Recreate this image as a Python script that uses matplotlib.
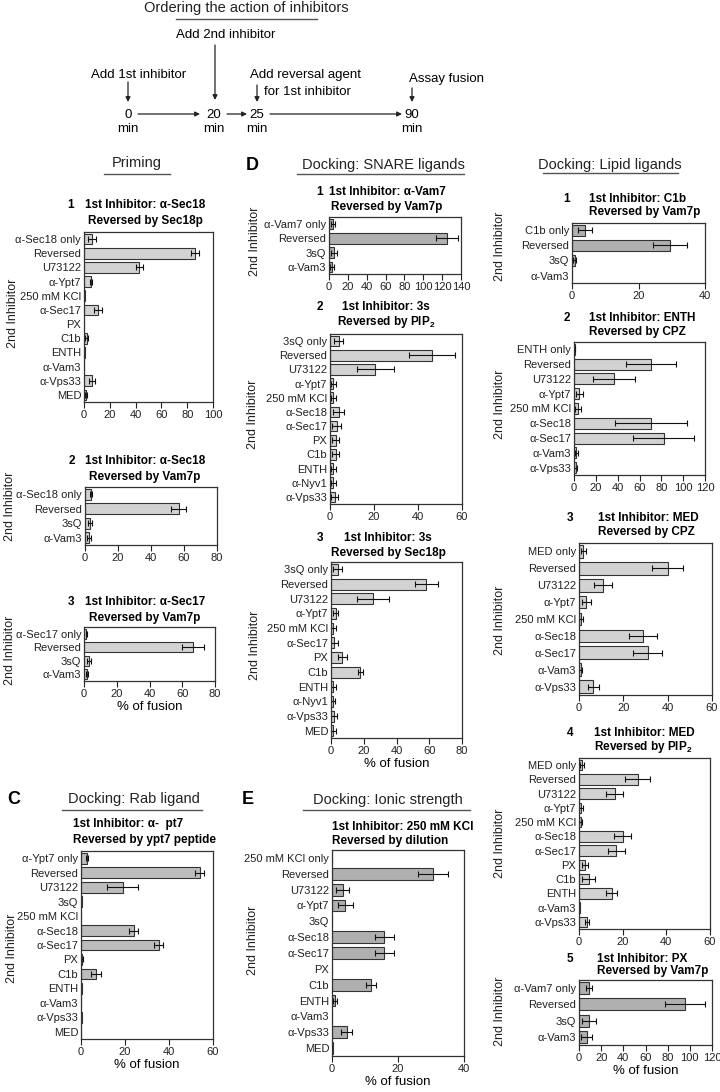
import matplotlib
matplotlib.use("Agg")
import matplotlib.pyplot as plt
import numpy as np

plt.rcParams['font.family'] = ['Liberation Sans', 'DejaVu Sans']
plt.rcParams['mathtext.fontset'] = 'custom'
plt.rcParams['mathtext.rm'] = 'Liberation Sans'
plt.rcParams['mathtext.bf'] = 'Liberation Sans:bold'

# ---------------- data ----------------
# Priming 1: 1st inhibitor a-Sec18, reversed by Sec18p
cats_p1 = ["α-Sec18 only", "Reversed", "U73122", "α-Ypt7", "250 mM KCl", "α-Sec17",
           "PX", "C1b", "ENTH", "α-Vam3", "α-Vps33", "MED"]
vals_p1 = [6, 86, 43, 5.5, 0.6, 11, 0, 2, 0.5, 0, 6.4, 1.5]
errs_p1 = [3, 3, 3, 1, 0, 3, 0, 1, 0, 0, 2.5, 1]

# Priming 2: a-Sec18 reversed by Vam7p
cats_p2 = ["α-Sec18 only", "Reversed", "3sQ", "α-Vam3"]
vals_p2 = [3.6, 56.7, 3, 2.5]
errs_p2 = [0.5, 4.3, 1, 1]

# Priming 3: a-Sec17 reversed by Vam7p
cats_p3 = ["α-Sec17 only", "Reversed", "3sQ", "α-Vam3"]
vals_p3 = [1.5, 66.5, 3, 2]
errs_p3 = [0.5, 6.6, 1, 0.5]

# C: Rab ligand
cats_c = ["α-Ypt7 only", "Reversed", "U73122", "3sQ", "250 mM KCl", "α-Sec18", "α-Sec17",
          "PX", "C1b", "ENTH", "α-Vam3", "α-Vps33", "MED"]
vals_c = [2.9, 54, 19, 0.3, 0, 24, 35.3, 0.5, 6.8, 0.3, 0, 0.3, 0]
errs_c = [0.5, 2, 7, 0, 0, 2, 2, 0.3, 2.3, 0, 0, 0, 0]

# D1: a-Vam7 reversed by Vam7p
cats_d1 = ["α-Vam7 only", "Reversed", "3sQ", "α-Vam3"]
vals_d1 = [3.9, 125, 5.3, 2.8]
errs_d1 = [2, 12, 3, 2]

# D2: 3s reversed by PIP2
cats_d2 = ["3sQ only", "Reversed", "U73122", "α-Ypt7", "250 mM KCl", "α-Sec18", "α-Sec17",
           "PX", "C1b", "ENTH", "α-Nyv1", "α-Vps33"]
vals_d2 = [3.9, 46.4, 20.6, 1.5, 1.5, 3.9, 3, 2.5, 2.5, 1.5, 1.5, 2.1]
errs_d2 = [2, 10.4, 8.4, 1, 1, 2.5, 2, 1.5, 1.7, 1, 1, 1.5]

# D3: 3s reversed by Sec18p
cats_d3 = ["3sQ only", "Reversed", "U73122", "α-Ypt7", "250 mM KCl", "α-Sec17", "PX",
           "C1b", "ENTH", "α-Nyv1", "α-Vps33", "MED"]
vals_d3 = [4, 58.2, 25.6, 3, 1.5, 2, 6.9, 17.9, 1.5, 1, 2, 1.5]
errs_d3 = [3, 7, 10, 1.5, 1.5, 2.5, 2.8, 1.5, 1.5, 1.5, 1.7, 1.5]

# E: 250 mM KCl reversed by dilution
cats_e = ["250 mM KCl only", "Reversed", "U73122", "α-Ypt7", "3sQ", "α-Sec18", "α-Sec17",
          "PX", "C1b", "ENTH", "α-Vam3", "α-Vps33", "MED"]
vals_e = [0, 30.7, 3.2, 4, 0, 15.9, 15.9, 0, 11.8, 0.8, 0, 4.4, 0.3]
errs_e = [0, 4.6, 2, 2.3, 0, 2.8, 2.8, 0, 1.6, 0.6, 0, 1.6, 0]

# L1: C1b reversed by Vam7p
cats_l1 = ["C1b only", "Reversed", "3sQ", "α-Vam3"]
vals_l1 = [3.9, 29.5, 0.8, 0]
errs_l1 = [2.2, 5.2, 0.5, 0]

# L2: ENTH reversed by CPZ
cats_l2 = ["ENTH only", "Reversed", "U73122", "α-Ypt7", "250 mM KCl", "α-Sec18", "α-Sec17",
           "α-Vam3", "α-Vps33"]
vals_l2 = [0.8, 70.6, 36.7, 5, 3.5, 70.6, 82, 2, 1.5]
errs_l2 = [0.5, 23, 19, 3, 2.5, 33, 28, 1.5, 1.5]

# L3: MED reversed by CPZ
cats_l3 = ["MED only", "Reversed", "U73122", "α-Ypt7", "250 mM KCl", "α-Sec18", "α-Sec17",
           "α-Vam3", "α-Vps33"]
vals_l3 = [2, 40, 10.7, 3.3, 1, 28.9, 31, 0.7, 6.5]
errs_l3 = [1, 7, 4, 2, 1, 6.5, 6.5, 0.5, 2.5]

# L4: MED reversed by PIP2
cats_l4 = ["MED only", "Reversed", "U73122", "α-Ypt7", "250 mM KCl", "α-Sec18", "α-Sec17",
           "PX", "C1b", "ENTH", "α-Vam3", "α-Vps33"]
vals_l4 = [1.3, 26.9, 16.3, 1, 0.7, 20, 17.1, 2.6, 4.4, 15, 0.3, 3.8]
errs_l4 = [1, 5.8, 3.8, 0.8, 0.5, 4, 4, 1.3, 3, 2.5, 0, 1]

# L5: PX reversed by Vam7p
cats_l5 = ["α-Vam7 only", "Reversed", "3sQ", "α-Vam3"]
vals_l5 = [9, 95.7, 9, 7]
errs_l5 = [3, 18, 6, 5]

# timeline
time_points = [0, 20, 25, 90]

# ---------------- figure ----------------
W, H = 720, 1092
fig = plt.figure(figsize=(W / 100, H / 100), dpi=100)
ov = fig.add_axes([0, 0, 1, 1])
ov.set_xlim(0, W)
ov.set_ylim(H, 0)
ov.axis('off')

LIGHT = '#d2d2d2'
MID = '#bdbdbd'
DARK = '#b0b0b0'


def panel(l, t, r, b, cats, vals, errs, xmax, step, color, xlabel=False,
          ylab_xy=None):
    ax = fig.add_axes([l / W, 1 - b / H, (r - l) / W, (b - t) / H])
    y = np.arange(len(cats))
    ax.barh(y, vals, height=0.75, color=color, edgecolor='#333333', linewidth=0.8)
    ev = np.array(vals, float)
    ee = np.array(errs, float)
    m = ee > 0
    ax.errorbar(ev[m], y[m], xerr=ee[m], fmt='none', ecolor='#111111',
                elinewidth=0.8, capsize=2, capthick=0.8)
    ax.set_ylim(len(cats) - 0.5, -0.5)
    ax.set_xlim(0, xmax)
    ax.set_xticks(np.arange(0, xmax + 0.1, step))
    ax.set_yticks(y)
    ax.set_yticklabels(cats, fontsize=8, color='#222222')
    ax.tick_params(axis='y', length=0, pad=2)
    ax.tick_params(axis='x', direction='out', length=4, width=0.8, labelsize=8,
                   pad=2, colors='#222222')
    for s in ax.spines.values():
        s.set_linewidth(0.9)
        s.set_color('#333333')
    if xlabel:
        ax.set_xlabel('% of fusion', fontsize=9.5, labelpad=1)
    if ylab_xy is not None:
        ov.text(ylab_xy[0], ylab_xy[1], '2nd Inhibitor', rotation=90, fontsize=9,
                ha='center', va='center', color='#222222')
    return ax


def ptitle(num, num_x, x, y1, y2, l1, l2, ha='center'):
    if num:
        ov.text(num_x, y1, num, fontsize=8.5, fontweight='bold', ha='center', va='center')
    ov.text(x, y1, l1, fontsize=8.5, fontweight='bold', ha=ha, va='center')
    ov.text(x, y2, l2, fontsize=8.5, fontweight='bold', ha=ha, va='center')


def header(x, y, text, x0, x1, uy):
    ov.text(x, y, text, fontsize=10.5, ha='center', va='center', color='#222222')
    ov.plot([x0, x1], [uy, uy], color='#555555', lw=1.0)


# ---------------- timeline ----------------
header(246, 8, 'Ordering the action of inhibitors', 176, 317, 19)
tl_x = [128, 214, 257, 412]
for tx, tp in zip(tl_x, time_points):
    ov.text(tx, 115, str(tp), fontsize=9.5, ha='center', va='center')
    ov.text(tx, 129, 'min', fontsize=9.5, ha='center', va='center')
for x0, x1 in [(138, 200), (227, 247), (270, 402)]:
    ov.annotate('', xy=(x1, 114), xytext=(x0, 114),
                arrowprops=dict(arrowstyle='-|>', lw=0.9, color='#222222',
                                mutation_scale=7, shrinkA=0, shrinkB=0))
for ax_, y0, y1 in [(128, 82, 102), (215, 45, 100), (257, 85, 102), (412, 88, 102)]:
    ov.annotate('', xy=(ax_, y1), xytext=(ax_, y0),
                arrowprops=dict(arrowstyle='-|>', lw=0.9, color='#222222',
                                mutation_scale=7, shrinkA=0, shrinkB=0))
ov.text(91, 75, 'Add 1st inhibitor', fontsize=9.5, ha='left', va='center')
ov.text(176, 35, 'Add 2nd inhibitor', fontsize=9.5, ha='left', va='center')
ov.text(250, 75, 'Add reversal agent', fontsize=9.5, ha='left', va='center')
ov.text(264, 92, 'for 1st inhibitor', fontsize=9.5, ha='left', va='center')
ov.text(409, 79, 'Assay fusion', fontsize=9.5, ha='left', va='center')

# ---------------- priming column ----------------
header(137, 163, 'Priming', 104, 170, 174)
ptitle('1', 71, 145, 205, 221, '1st Inhibitor: α-Sec18', 'Reversed by Sec18p')
panel(84, 232, 213, 402, cats_p1, vals_p1, errs_p1, 100, 20, LIGHT, ylab_xy=(13, 313))
ptitle('2', 72, 145, 461, 477, '1st Inhibitor: α-Sec18', 'Reversed by Vam7p')
panel(85, 487, 217, 545, cats_p2, vals_p2, errs_p2, 80, 20, LIGHT, ylab_xy=(10, 506))
ptitle('3', 71, 145, 602, 618, '1st Inhibitor: α-Sec17', 'Reversed by Vam7p')
panel(84, 627, 215, 681, cats_p3, vals_p3, errs_p3, 80, 20, LIGHT, xlabel=True,
      ylab_xy=(10, 650))

# ---------------- C ----------------
ov.text(14, 800, 'C', fontsize=13, fontweight='bold', ha='center', va='center')
header(134, 799, 'Docking: Rab ligand', 62, 202, 810)
ptitle(None, 0, 73, 824, 840, '1st Inhibitor: α-  pt7', 'Reversed by ypt7 peptide', ha='left')
panel(81, 851, 213, 1039, cats_c, vals_c, errs_c, 60, 20, MID, xlabel=True,
      ylab_xy=(12, 948))

# ---------------- D ----------------
ov.text(252, 165, 'D', fontsize=13, fontweight='bold', ha='center', va='center')
header(383, 165, 'Docking: SNARE ligands', 297, 464, 174)
ptitle('1', 320, 387, 192, 207, '1st Inhibitor: α-Vam7', 'Reversed by Vam7p')
panel(329, 217, 461, 274, cats_d1, vals_d1, errs_d1, 140, 20, DARK, ylab_xy=(255, 241))
ptitle('2', 320, 386, 307, 322, '1st Inhibitor: 3s', r'Reversed by PIP$_{\mathbf{2}}$')
panel(330, 334, 462, 504, cats_d2, vals_d2, errs_d2, 60, 20, LIGHT, ylab_xy=(253, 414))
ptitle('3', 320, 388, 538, 553, '1st Inhibitor: 3s', 'Reversed by Sec18p')
panel(331, 562, 462, 738, cats_d3, vals_d3, errs_d3, 80, 20, LIGHT, xlabel=True,
      ylab_xy=(255, 645))

# ---------------- E ----------------
ov.text(248, 800, 'E', fontsize=13, fontweight='bold', ha='center', va='center')
header(388, 800, 'Docking: Ionic strength', 303, 470, 810)
ptitle(None, 0, 332, 827, 841, '1st Inhibitor: 250 mM KCl', 'Reversed by dilution', ha='left')
panel(332, 850, 464, 1056, cats_e, vals_e, errs_e, 40, 20, DARK, xlabel=True,
      ylab_xy=(253, 940))

# ---------------- lipid column ----------------
header(610, 165, 'Docking: Lipid ligands', 543, 678, 173)
ptitle('1', 567, 589, 199, 212, '1st Inhibitor: C1b', 'Reversed by Vam7p', ha='left')
panel(572, 223, 705, 283, cats_l1, vals_l1, errs_l1, 40, 20, DARK, ylab_xy=(500, 246))
ptitle('2', 567, 589, 318, 332, '1st Inhibitor: ENTH', 'Reversed by CPZ', ha='left')
panel(574, 342, 705, 475, cats_l2, vals_l2, errs_l2, 120, 20, LIGHT, ylab_xy=(500, 404))
ptitle('3', 570, 598, 518, 532, '1st Inhibitor: MED', 'Reversed by CPZ', ha='left')
panel(579, 543, 712, 695, cats_l3, vals_l3, errs_l3, 60, 20, LIGHT, ylab_xy=(500, 620))
ptitle('4', 570, 594, 733, 747, '1st Inhibitor: MED', r'Reversed by PIP$_{\mathbf{2}}$', ha='left')
panel(579, 758, 710, 929, cats_l4, vals_l4, errs_l4, 60, 20, LIGHT, ylab_xy=(500, 843))
ptitle('5', 570, 597, 959, 971, '1st Inhibitor: PX', 'Reversed by Vam7p', ha='left')
panel(579, 980, 712, 1045, cats_l5, vals_l5, errs_l5, 120, 20, DARK, xlabel=True,
      ylab_xy=(500, 1011))

fig.savefig('out.png', dpi=100)
